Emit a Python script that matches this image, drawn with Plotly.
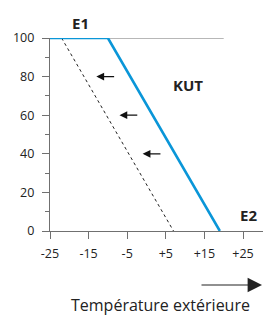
import plotly.graph_objects as go

# Data
kut_x = [-25, -10, 19]
kut_y = [100, 100, 0]
shift_x = [-22, 7]
shift_y = [100, 0]
arrow_y = [80, 60, 40]
arrow_tail_x = [-8, -2, 4]
arrow_head_x = [-13, -7, -1]
x_ticks = [-25, -15, -5, 5, 15, 25]
x_ticklabels = ["-25", "-15", "-5", "+5", "+15", "+25"]
y_ticks = [0, 20, 40, 60, 80, 100]
y_minor = [10, 30, 50, 70, 90]
labels = [("KUT", 10.8, 75.5), ("E2", 26.3, 8.3)]

AX = "#707070"
FONT = "Open Sans"

fig = go.Figure()

# top reference line at 100
fig.add_shape(type="line", xref="x", yref="y", x0=-25, x1=20, y0=100, y1=100,
              line=dict(color=AX, width=1.2), layer="below")

fig.add_trace(go.Scatter(x=shift_x, y=shift_y, mode="lines",
                         line=dict(color="#222222", width=1, dash="dot"),
                         cliponaxis=False, showlegend=False, hoverinfo="skip"))
fig.add_trace(go.Scatter(x=kut_x, y=kut_y, mode="lines",
                         line=dict(color="#0a96d8", width=2.6),
                         cliponaxis=False, showlegend=False, hoverinfo="skip"))

annotations = []
for yv, xt, xh in zip(arrow_y, arrow_tail_x, arrow_head_x):
    annotations.append(dict(x=xh, y=yv, ax=xt, ay=yv, xref="x", yref="y",
                            axref="x", ayref="y", text="", showarrow=True,
                            arrowhead=2, arrowsize=1.3, arrowwidth=1.2,
                            arrowcolor="#111111"))
for t, xv, yv in labels:
    annotations.append(dict(x=xv, y=yv, xref="x", yref="y", text="<b>%s</b>" % t,
                            xanchor="center", yanchor="middle",
                            showarrow=False, font=dict(family=FONT, size=15, color="#222222")))
annotations.append(dict(x=(80 - 50) / 213, y=(231 - 23) / 193, xref="paper", yref="paper",
                        text="<b>E1</b>", showarrow=False, xanchor="center", yanchor="middle",
                        font=dict(family=FONT, size=15, color="#222222")))

# bottom direction arrow
annotations.append(dict(x=(262 - 50) / 213, y=(231 - 285) / 193, xref="paper", yref="paper",
                        ax=-62, ay=0, text="", showarrow=True, arrowhead=2,
                        xanchor="center", yanchor="middle",
                        arrowsize=2.4, arrowwidth=1.2, arrowcolor="#222222"))
annotations.append(dict(x=(160 - 50) / 213, y=(231 - 305) / 193, xref="paper", yref="paper",
                        text="Température extérieure", showarrow=False,
                        xanchor="center", yanchor="middle",
                        font=dict(family=FONT, size=16, color="#222222")))

fig.update_layout(
    width=265, height=318,
    margin=dict(l=50, r=2, t=38, b=87),
    plot_bgcolor="white", paper_bgcolor="white",
    font=dict(family=FONT, size=12.5, color="#222222"),
    annotations=annotations,
    xaxis=dict(range=[-25, -25 + 213 / 3.86], showgrid=False, zeroline=False,
               showline=True, linecolor=AX, linewidth=1.2,
               ticks="outside", ticklen=7, tickwidth=1.2, tickcolor=AX,
               tickvals=x_ticks, ticktext=x_ticklabels, ticklabelstandoff=4,
               automargin=False, fixedrange=True),
    yaxis=dict(range=[0, 100], showgrid=False, zeroline=False,
               showline=True, linecolor=AX, linewidth=1.2,
               ticks="outside", ticklen=7, tickwidth=1.2, tickcolor=AX,
               tickvals=y_ticks, ticklabelstandoff=5,
               minor=dict(tickvals=y_minor, ticks="outside", ticklen=4,
                          tickwidth=1.2, tickcolor=AX),
               automargin=False, fixedrange=True),
)

fig.write_html("out.html", config={"displayModeBar": False},
               post_script="document.body.style.margin='0';document.body.style.overflow='hidden';")
